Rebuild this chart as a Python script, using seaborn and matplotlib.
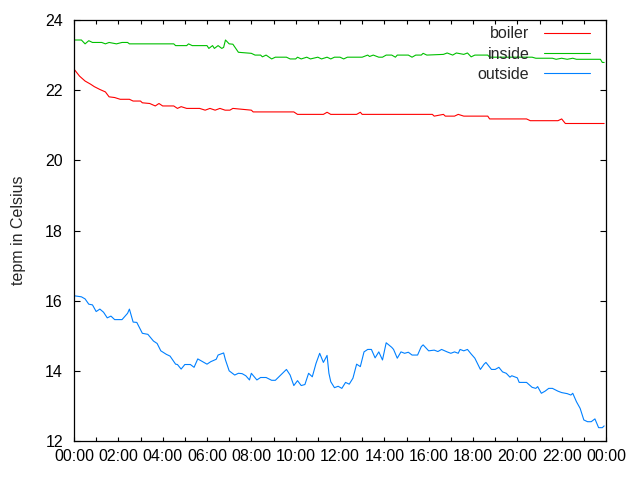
import numpy as np
import pandas as pd
import matplotlib
matplotlib.use("Agg")
import matplotlib.pyplot as plt
import matplotlib.dates as mdates
import seaborn as sns

# ---- data (minutes after midnight, temperature in Celsius) ----
boiler_min = [0, 15, 30, 45, 55, 70, 85, 95, 110, 125, 150, 160, 180, 185, 205, 220, 230, 240,
              270, 280, 290, 305, 340, 355, 368, 382, 395, 409, 422, 430, 480, 485, 595, 605,
              675, 685, 695, 765, 775, 780, 970, 975, 1000, 1005, 1030, 1040, 1055, 1120,
              1125, 1225, 1235, 1310, 1320, 1330, 1435]
boiler_val = [22.6, 22.40, 22.26, 22.17, 22.1, 22.02, 21.95, 21.81, 21.79, 21.74, 21.74, 21.69,
              21.69, 21.64, 21.62, 21.55, 21.62, 21.55, 21.55, 21.48, 21.53, 21.48, 21.48, 21.43,
              21.48, 21.43, 21.48, 21.43, 21.43, 21.48, 21.43, 21.38, 21.38, 21.31, 21.31, 21.37,
              21.31, 21.31, 21.37, 21.31, 21.31, 21.26, 21.31, 21.26, 21.26, 21.31, 21.26, 21.26,
              21.18, 21.18, 21.13, 21.13, 21.18, 21.05, 21.05]

inside_min = [0, 20, 30, 40, 50, 75, 85, 95, 115, 130, 145, 150, 270, 275, 305, 310, 320, 360,
              365, 375, 380, 390, 400, 405, 410, 420, 430, 445, 480, 490, 505, 510, 520, 535,
              545, 575, 585, 600, 605, 615, 630, 640, 660, 670, 685, 695, 705, 720, 730, 740,
              780, 795, 800, 810, 825, 835, 845, 860, 870, 875, 905, 915, 925, 940, 945, 955,
              1000, 1010, 1025, 1035, 1055, 1065, 1075, 1085, 1120, 1125, 1240, 1250, 1295,
              1305, 1320, 1335, 1350, 1360, 1425, 1430, 1435]
inside_val = [23.43, 23.43, 23.32, 23.41, 23.36, 23.36, 23.32, 23.36, 23.32, 23.36, 23.36, 23.32,
              23.32, 23.27, 23.27, 23.32, 23.27, 23.27, 23.19, 23.27, 23.19, 23.27, 23.19, 23.22,
              23.43, 23.32, 23.31, 23.08, 23.05, 23.0, 23.0, 22.95, 23.0, 22.89, 22.94, 22.94,
              22.89, 22.89, 22.94, 22.89, 22.94, 22.89, 22.94, 22.89, 22.94, 22.89, 22.94, 22.94,
              22.89, 22.94, 22.94, 23.0, 22.96, 23.0, 22.94, 22.94, 23.0, 23.0, 22.94, 23.0,
              23.0, 22.94, 23.0, 23.0, 23.05, 23.0, 23.02, 23.06, 23.0, 23.06, 23.02, 23.06,
              22.95, 23.0, 23.0, 22.94, 22.94, 22.91, 22.91, 22.88, 22.91, 22.88, 22.91, 22.88,
              22.88, 22.79, 22.79]

outside_min = [0, 20, 30, 40, 50, 60, 70, 80, 90, 100, 110, 130, 145, 150, 160, 170, 185, 200,
               215, 225, 235, 250, 260, 275, 280, 290, 300, 315, 325, 335, 345, 360, 370, 385,
               390, 405, 410, 420, 435, 445, 455, 465, 475, 480, 495, 505, 520, 535, 545, 575,
               585, 595, 605, 615, 625, 635, 645, 655, 665, 675, 685, 690, 695, 705, 715, 725,
               735, 745, 755, 765, 775, 785, 795, 805, 815, 825, 835, 845, 860, 865, 875, 885,
               895, 905, 915, 930, 940, 945, 960, 975, 985, 995, 1010, 1020, 1030, 1040, 1045,
               1055, 1065, 1075, 1085, 1100, 1110, 1115, 1130, 1140, 1150, 1160, 1170, 1180,
               1185, 1200, 1205, 1225, 1240, 1250, 1255, 1265, 1275, 1285, 1295, 1310, 1320,
               1335, 1345, 1350, 1360, 1370, 1380, 1390, 1400, 1410, 1420, 1430, 1435]
outside_val = [16.14, 16.11, 16.05, 15.9, 15.88, 15.69, 15.76, 15.67, 15.51, 15.56, 15.46, 15.46,
               15.64, 15.76, 15.39, 15.38, 15.07, 15.04, 14.85, 14.78, 14.57, 14.47, 14.42, 14.19,
               14.18, 14.05, 14.18, 14.18, 14.1, 14.34, 14.28, 14.19, 14.26, 14.33, 14.45, 14.51,
               14.31, 14.0, 13.88, 13.93, 13.92, 13.86, 13.74, 13.93, 13.74, 13.81, 13.81, 13.73,
               13.73, 14.04, 13.88, 13.58, 13.72, 13.58, 13.61, 13.93, 13.83, 14.21, 14.5, 14.24,
               14.44, 13.93, 13.69, 13.52, 13.56, 13.5, 13.67, 13.62, 13.79, 14.19, 14.12, 14.54,
               14.61, 14.61, 14.37, 14.54, 14.31, 14.8, 14.67, 14.61, 14.36, 14.54, 14.5, 14.53,
               14.45, 14.45, 14.69, 14.74, 14.57, 14.59, 14.55, 14.61, 14.54, 14.5, 14.54, 14.5,
               14.61, 14.57, 14.61, 14.48, 14.36, 14.04, 14.19, 14.24, 14.04, 14.04, 14.1, 13.97,
               13.93, 13.82, 13.86, 13.8, 13.67, 13.67, 13.53, 13.5, 13.55, 13.36, 13.42, 13.5,
               13.5, 13.42, 13.38, 13.35, 13.31, 13.36, 13.12, 12.93, 12.6, 12.55, 12.55, 12.63,
               12.38, 12.38, 12.43]

series_names = ["boiler", "inside", "outside"]
series_colors = ["#ff0000", "#00c000", "#0080ff"]
y_label = "tepm in Celsius"

day0 = pd.Timestamp("2024-01-01")
frames = []
for name, mins, vals in [("boiler", boiler_min, boiler_val),
                         ("inside", inside_min, inside_val),
                         ("outside", outside_min, outside_val)]:
    frames.append(pd.DataFrame({
        "time": day0 + pd.to_timedelta(mins, unit="m"),
        "temp": vals,
        "sensor": name,
    }))
df = pd.concat(frames, ignore_index=True)

# ---- plot ----
sns.set_style("ticks")
plt.rcParams["font.family"] = ["Liberation Sans", "DejaVu Sans"]
FS = 11.5

fig = plt.figure(figsize=(6.4, 4.8), dpi=100)
ax = fig.add_axes([74 / 640, 1 - 441 / 480, 532 / 640, 421 / 480])

sns.lineplot(data=df, x="time", y="temp", hue="sensor", hue_order=series_names,
             palette=series_colors, linewidth=0.8, ax=ax, estimator=None, sort=True)

ax.set_xlim(day0, day0 + pd.Timedelta(days=1))
ax.set_ylim(12, 24)
ax.set_yticks([12, 14, 16, 18, 20, 22, 24])
ax.xaxis.set_major_locator(mdates.HourLocator(interval=2))
ax.xaxis.set_minor_locator(mdates.HourLocator())
ax.xaxis.set_major_formatter(mdates.DateFormatter("%H:%M"))

ax.tick_params(axis="both", which="both", direction="in", top=True, right=True,
               colors="black", labelsize=FS)
ax.tick_params(axis="x", which="major", length=3.2, width=0.8, pad=6)
ax.tick_params(axis="x", which="minor", length=3.2, width=0.8)
ax.tick_params(axis="y", which="major", length=4.3, width=0.8, pad=8)
for s in ax.spines.values():
    s.set_linewidth(0.9)
    s.set_color("black")

ax.set_xlabel("")
ax.set_ylabel(y_label, fontsize=FS, labelpad=14)

leg = ax.legend(loc="upper right", bbox_to_anchor=(0.97, 0.985), frameon=False,
                markerfirst=False, handlelength=2.9, handletextpad=0.9,
                labelspacing=0.33, borderpad=0, borderaxespad=0, fontsize=FS)
for line in leg.get_lines():
    line.set_linewidth(0.8)

fig.savefig("out.png", dpi=100)
